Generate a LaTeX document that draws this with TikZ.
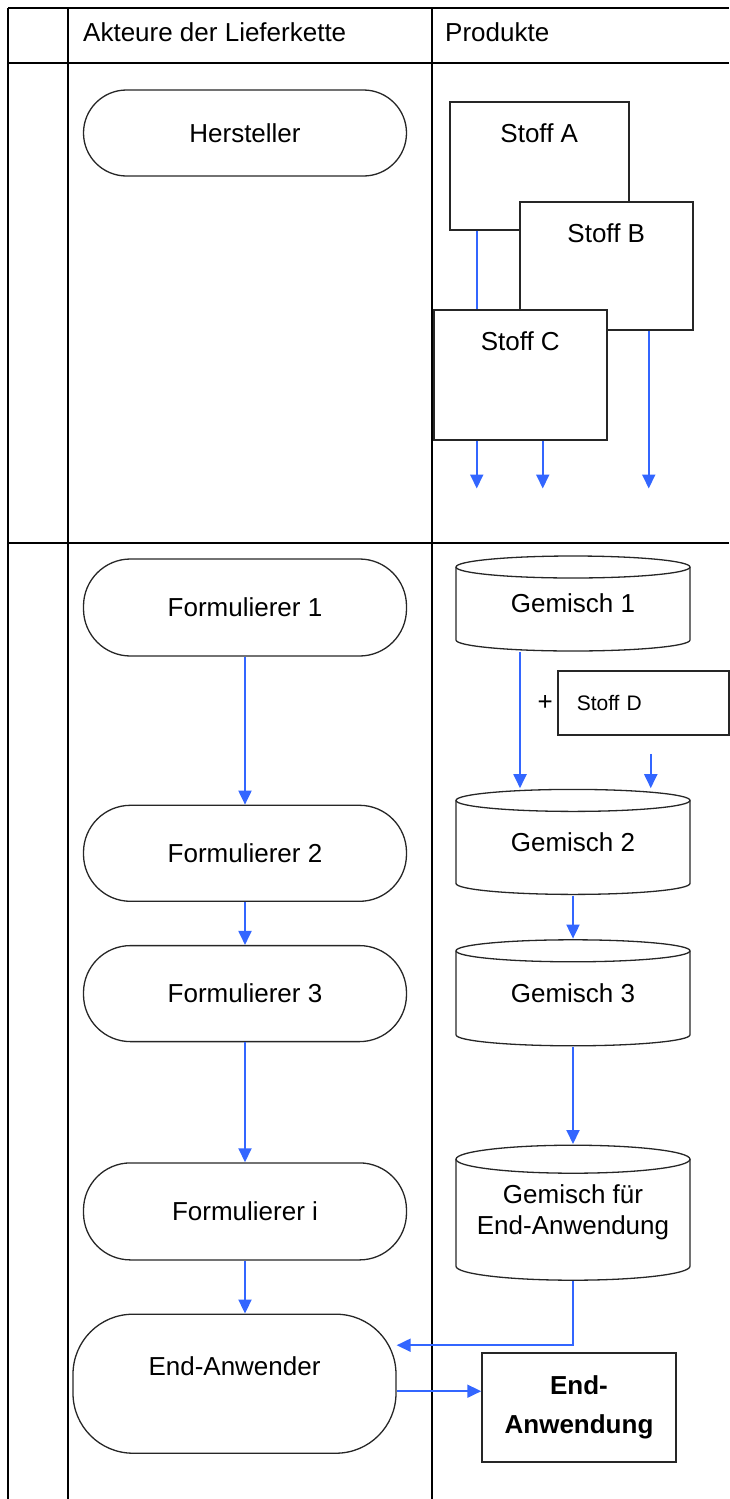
\documentclass[tikz,border=0pt]{standalone}
\usepackage{fontspec}
\setmainfont{Liberation Sans}
\usetikzlibrary{arrows.meta,positioning}
\definecolor{flussblau}{RGB}{51,102,255}
\tikzset{
    %Define standard arrow tip
    >={Triangle[width=13pt,length=14pt]},
    %Define style for swimlane lines
    bahn/.style={
           draw=black,
           line width=1.6pt},
    %Define style for lane headers
    kopf/.style={
           anchor=base west,
           inner sep=0pt,
           font=\fontsize{26}{31}\selectfont},
    %Define style for actors
    akteur/.style={
           rectangle,
           rounded corners=47pt,
           draw=black!85, line width=1.3pt,
           minimum width=323pt,
           minimum height=96pt,
           font=\fontsize{26}{31}\selectfont,
           text centered},
    %Define style for substances
    stoff/.style={
           rectangle,
           draw=black!85, line width=1.5pt,
           fill=white,
           anchor=north west,
           inner sep=0pt,
           minimum width=173pt,
           text height=41pt,
           text depth=87pt,
           font=\fontsize{26}{31}\selectfont},
    %Define style for added substance
    zusatz/.style={
           rectangle,
           draw=black!85, line width=1.5pt,
           anchor=west,
           minimum height=64pt,
           text width=133pt,
           inner xsep=19pt,
           align=left,
           font=\fontsize{21}{25}\selectfont},
    %Define style for end product
    produkt/.style={
           rectangle,
           draw=black!85, line width=1.5pt,
           minimum width=194pt,
           minimum height=109pt,
           align=center,
           font=\bfseries\fontsize{26}{39}\selectfont},
    % Define arrow style
    pil/.style={
           ->,
           draw=flussblau,
           line width=1.9pt},
    % Define plain flow line
    fluss/.style={
           draw=flussblau,
           line width=1.9pt}
}
\makeatletter
\tikzset{
    gemisch/.style={
        path picture={
            \draw[line width=1.3pt, black!85] ([yshift={-(\gemisch@ry+1pt)}]path picture bounding box.north) ellipse [x radius=\gemisch@rx, y radius=\gemisch@ry];
            \draw[line width=1.3pt, black!85] ([xshift=-\gemisch@rx, yshift={-(\gemisch@ry+1pt)}]path picture bounding box.north) -- ([xshift=-\gemisch@rx, yshift={\gemisch@ry+1pt}]path picture bounding box.south) arc [start angle=180, end angle=360, x radius=\gemisch@rx, y radius=\gemisch@ry] -- ([xshift=\gemisch@rx, yshift={-(\gemisch@ry+1pt)}]path picture bounding box.north);
        },
        minimum width=2*\gemisch@rx + 3pt,
        inner sep=0pt,
        align=center,
        font=\fontsize{26}{31}\selectfont,
    },
    gemisch x radius/.store in=\gemisch@rx,
    gemisch y radius/.store in=\gemisch@ry,
    gemisch x radius=117pt,
    gemisch y radius=11pt,
}
\makeatother

\begin{document}
\begin{tikzpicture}[x=1pt, y=-1pt]
        \useasboundingbox (0,0) rectangle (729,1499);

        % swimlanes
        \draw[bahn] (8,8) -- (729,8);
        \draw[bahn] (8,63) -- (729,63);
        \draw[bahn] (8,543) -- (729,543);
        \draw[bahn] (8,8) -- (8,1499);
        \draw[bahn] (68,8) -- (68,1499);
        \draw[bahn] (432,8) -- (432,1499);

        % lane headers
        \node[kopf] (kopfakteure) at (83,41) {Akteure der Lieferkette};
        \node[kopf] (kopfprodukte) at (445,41) {Produkte};

        %nodes

        % Hersteller node
        \node[akteur, minimum height=86pt, rounded corners=43pt]
        (hersteller)
        at (245,133)
        {Hersteller}
        ;

        % Stoff A node
        \node[stoff, minimum width=179pt]
        (stoffA)
        at (449,101)
        {Stoff A}
        ;

        % Stoff B node
        \node[stoff]
        (stoffB)
        at (519,201)
        {Stoff B}
        ;

        % Stoff A into Stoff C
        \draw[fluss]
        ([xshift=-62.5pt]stoffA.south) -- ([xshift=-62.5pt]stoffA.south |- 0,309)
        ;

        % Stoff C node
        \node[stoff, text depth=89pt]
        (stoffC)
        at (433,309)
        {Stoff C}
        ;

        % outgoing substances
        \coordinate (ausC1) at ([xshift=-43.5pt, yshift=-48pt]stoffC.south);
        \coordinate (ausC2) at ([xshift=22.5pt, yshift=-48pt]stoffC.south);
        \coordinate (ausB) at ([xshift=42.5pt]stoffB.south |- ausC1);
        \draw[pil] (ausC1 |- stoffC.south) -- (ausC1);
        \draw[pil] (ausC2 |- stoffC.south) -- (ausC2);
        \draw[pil] ([xshift=42.5pt]stoffB.south) -- (ausB);

        % Formulierer 1 node
        \node[akteur, minimum height=97pt]
        (f1)
        at (245,607.5)
        {Formulierer 1}
        ;

        % Formulierer 2 node
        \node[akteur, below=148pt of f1]
        (f2)
        {Formulierer 2}
        ;

        % Formulierer 3 node
        \node[akteur, below=43pt of f2]
        (f3)
        {Formulierer 3}
        ;

        % Formulierer i node
        \node[akteur, below=120pt of f3, minimum height=97pt]
        (fi)
        {Formulierer i}
        ;

        % End-Anwender node
        \node[akteur, below=53pt of fi, xshift=-10.5pt,
        minimum height=139pt, rounded corners=60pt,
        inner sep=0pt, text height=61pt, text depth=78pt]
        (ea)
        {End-Anwender}
        ;

        % Gemisch 1 node
        \node[gemisch, minimum height=97pt]
        (g1)
        at (573,603.5)
        {Gemisch 1}
        ;

        % Stoff D node
        \node[zusatz]
        (stoffD)
        at (557,703)
        {Stoff D}
        ;
        \node[left=4pt of stoffD, inner sep=0pt, font=\fontsize{26}{31}\selectfont]
        (plus)
        {+}
        ;

        % Gemisch 2 node
        \node[gemisch, below=136pt of g1, minimum height=107pt]
        (g2)
        {Gemisch 2}
        ;

        % Gemisch 3 node
        \node[gemisch, below=43pt of g2, minimum height=108pt]
        (g3)
        {Gemisch 3}
        ;

        % Gemisch fuer End-Anwendung node
        \node[gemisch, below=97pt of g3, minimum height=137pt, gemisch y radius=14pt]
        (ge)
        {Gemisch f\"ur\\End-Anwendung}
        ;

        % End-Anwendung node
        \node[produkt]
        (endanw)
        at (579,1407.5)
        {End-\\Anwendung}
        ;

        % actors chain
        \draw[pil] (f1) -- (f2);
        \draw[pil] (f2) -- (f3);
        \draw[pil] (f3) -- (fi);
        \draw[pil] (fi.south) -- (fi.south |- ea.north);

        % mixtures chain
        \draw[pil] ([xshift=-53pt]g1.south) -- ([xshift=-53pt]g2.north);
        \coordinate (zuD) at ([xshift=7.5pt, yshift=-18pt]stoffD.south);
        \draw[pil] (zuD) -- (zuD |- g2.north);
        \draw[pil] (g2) -- (g3);
        \draw[pil] (g3) -- (ge);

        % Gemisch to End-Anwender
        \draw[pil] (ge.south) |- ([yshift=38.5pt]ea.east);

        % End-Anwender to End-Anwendung
        \draw[pil] ([yshift=-7.5pt]ea.east) -- ([yshift=-7.5pt]ea.east -| endanw.west);

\end{tikzpicture}
\end{document}
